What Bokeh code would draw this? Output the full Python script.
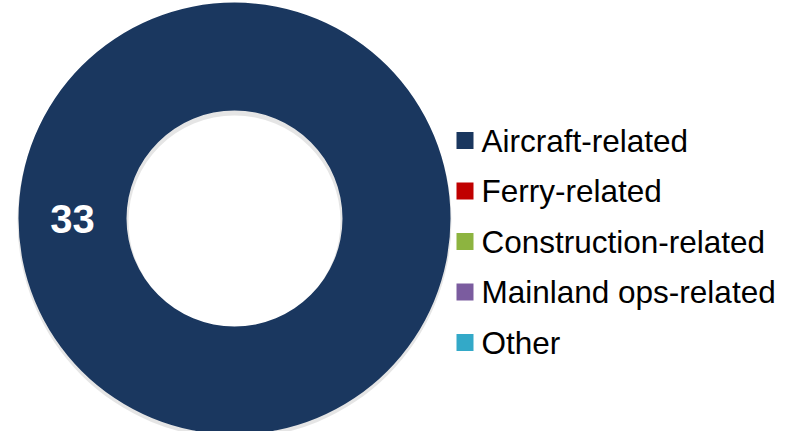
import numpy as np
from bokeh.plotting import figure
from bokeh.models import ColumnDataSource, Range1d
from bokeh.embed import file_html
from bokeh.resources import INLINE
from bokeh.core.properties import value

categories = ["Aircraft-related", "Ferry-related", "Construction-related",
              "Mainland ops-related", "Other"]
counts = [33, 0, 0, 0, 0]
colors = ["#1A375F", "#C00000", "#8DB440", "#7B5C9F", "#33A9C8"]

W, H = 777, 431
p = figure(width=W, height=H, x_range=Range1d(0, W), y_range=Range1d(0, H),
           output_backend="svg", toolbar_location=None, min_border=0)
p.axis.visible = False
p.grid.visible = False
p.outline_line_color = None
p.background_fill_color = "white"
p.border_fill_color = "white"

# donut geometry (pixels)
cx, cy = 234, H - 218
r_out, r_in = 216, 108

vals = np.array(counts, dtype=float)
frac = vals / vals.sum()
ends = np.cumsum(frac) * 2 * np.pi
starts = np.concatenate([[0.0], ends[:-1]])
mids = (starts + ends) / 2
r_mid = (r_out + r_in) / 2

# shadow
p.annulus(x=cx, y=cy - 3, inner_radius=r_in - 2, outer_radius=r_out + 1,
          fill_color="#000000", fill_alpha=0.10, line_color=None)

nz = [i for i, v in enumerate(counts) if v > 0]
full = [i for i in nz if frac[i] >= 0.9999]
part = [i for i in nz if frac[i] < 0.9999]
for i in full:
    p.annulus(x=cx, y=cy, inner_radius=r_in, outer_radius=r_out,
              fill_color=colors[i], line_color=None)
if part:
    psrc = ColumnDataSource(dict(start=starts[part], end=ends[part],
                                 color=[colors[i] for i in part]))
    p.annular_wedge(x=cx, y=cy, inner_radius=r_in, outer_radius=r_out,
                    start_angle="start", end_angle="end", fill_color="color",
                    line_color="white", source=psrc)

lsrc = ColumnDataSource(dict(
    x=[cx + r_mid * np.cos(mids[i]) for i in nz],
    y=[cy + r_mid * np.sin(mids[i]) for i in nz],
    t=[str(counts[i]) for i in nz]))
p.text(x="x", y="y", text="t", source=lsrc, text_color="white",
       text_font=value("Liberation Sans"), text_font_style="bold",
       text_font_size="40px", text_align="center", text_baseline="middle")

# legend
ly0, lstep = H - 140, 50.5
ly = [ly0 - k * lstep for k in range(len(categories))]
p.rect(x=464.5, y=ly, width=17, height=17, fill_color=colors, line_color=None)
p.text(x=481, y=ly, text=categories, text_color="black",
       text_font=value("Liberation Sans"), text_font_size="31.5px",
       text_align="left", text_baseline="middle")

open("out.html", "w").write(file_html(p, INLINE))
